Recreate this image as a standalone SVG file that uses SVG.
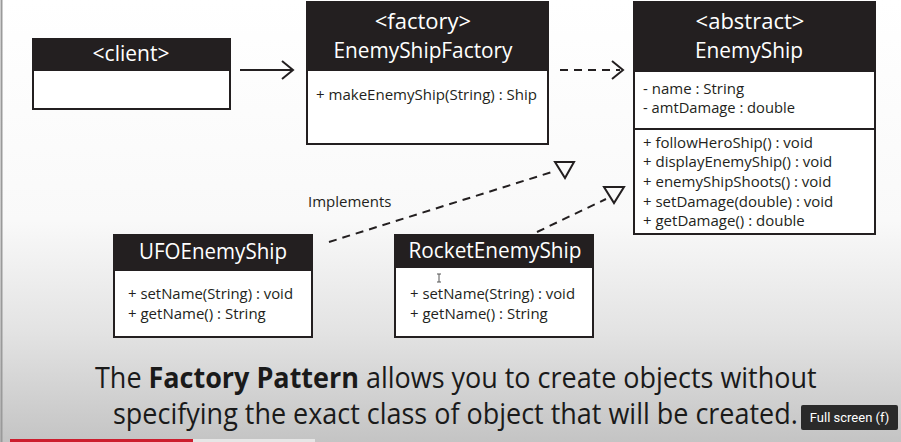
<svg xmlns="http://www.w3.org/2000/svg" width="901" height="442" viewBox="0 0 901 442">
<defs>
<linearGradient id="bg" x1="0" y1="0" x2="0" y2="1">
<stop offset="0" stop-color="#ffffff"/>
<stop offset="0.5" stop-color="#f9f9f9"/>
<stop offset="0.75" stop-color="#e3e3e3"/>
<stop offset="1" stop-color="#c4c4c4"/>
</linearGradient>
<style>
.box{fill:#ffffff;stroke:#231f20;stroke-width:2}
.hdr{fill:#231f20}
.ht{font-family:"Open Sans","Noto Sans",sans-serif;fill:#ffffff;text-anchor:middle}
.mt{font-family:"Open Sans","Noto Sans",sans-serif;fill:#231f20;font-size:15px}
.ln{stroke:#231f20;stroke-width:2;fill:none}
.dash{stroke:#231f20;stroke-width:2;fill:none;stroke-dasharray:8 6}
.big{font-family:"Open Sans","Noto Sans",sans-serif;fill:#1a1a1a;font-size:29px}
</style>
</defs>
<rect width="901" height="442" fill="url(#bg)"/>
<line x1="1.5" y1="0" x2="1.5" y2="442" stroke="#9a9a9a" stroke-width="2"/>

<g id="client">
<rect class="box" x="33" y="39" width="197" height="70"/>
<rect class="hdr" x="33" y="39" width="197" height="32"/>
<text class="ht" x="131" y="61" font-size="21">&lt;client&gt;</text>
</g>

<g id="factory">
<rect class="box" x="307" y="2" width="241" height="142"/>
<rect class="hdr" x="307" y="2" width="241" height="69"/>
<text class="ht" x="423" y="29" font-size="22">&lt;factory&gt;</text>
<text class="ht" x="423" y="58" font-size="22" textLength="179" lengthAdjust="spacingAndGlyphs">EnemyShipFactory</text>
<text class="mt" x="316" y="100" textLength="221" lengthAdjust="spacingAndGlyphs">+ makeEnemyShip(String) : Ship</text>
</g>

<g id="enemyship">
<rect class="box" x="634" y="2" width="241" height="232"/>
<rect class="hdr" x="634" y="2" width="241" height="70"/>
<text class="ht" x="750" y="29" font-size="22">&lt;abstract&gt;</text>
<text class="ht" x="749" y="58" font-size="22" textLength="108" lengthAdjust="spacingAndGlyphs">EnemyShip</text>
<line class="ln" x1="634" y1="129" x2="875" y2="129"/>
<text class="mt" x="643" y="94">- name : String</text>
<text class="mt" x="643" y="113" textLength="152" lengthAdjust="spacingAndGlyphs">- amtDamage : double</text>
<text class="mt" x="643" y="148">+ followHeroShip() : void</text>
<text class="mt" x="643" y="167">+ displayEnemyShip() : void</text>
<text class="mt" x="643" y="187">+ enemyShipShoots() : void</text>
<text class="mt" x="643" y="207">+ setDamage(double) : void</text>
<text class="mt" x="643" y="226">+ getDamage() : double</text>
</g>

<g id="ufo">
<rect class="box" x="114" y="235" width="198" height="102"/>
<rect class="hdr" x="114" y="235" width="198" height="36"/>
<text class="ht" x="213" y="259" font-size="21" textLength="148" lengthAdjust="spacingAndGlyphs">UFOEnemyShip</text>
<text class="mt" x="128" y="299" textLength="165" lengthAdjust="spacingAndGlyphs">+ setName(String) : void</text>
<text class="mt" x="128" y="319">+ getName() : String</text>
</g>

<g id="rocket">
<rect class="box" x="395" y="235" width="198" height="102"/>
<rect class="hdr" x="395" y="235" width="198" height="33"/>
<text class="ht" x="495" y="258" font-size="21" textLength="173" lengthAdjust="spacingAndGlyphs">RocketEnemyShip</text>
<text class="mt" x="410" y="299" textLength="165" lengthAdjust="spacingAndGlyphs">+ setName(String) : void</text>
<text class="mt" x="410" y="319">+ getName() : String</text>
<path d="M437 274h4M439 274v8M437 282h4" stroke="#555" stroke-width="1" fill="none"/>
</g>

<g id="connectors">
<line class="ln" x1="240" y1="70" x2="292" y2="70"/>
<polyline class="ln" points="282,61 293,70 282,79"/>
<line class="dash" x1="560" y1="70" x2="620" y2="70"/>
<polyline class="ln" points="612,61 623,70 612,79"/>
<line class="dash" x1="329" y1="242" x2="552" y2="172"/>
<polygon class="ln" points="555,162 574,162 565,178"/>
<line class="dash" x1="537" y1="232" x2="606" y2="199"/>
<polygon class="ln" points="604,187 624,187 614,203"/>
<text class="mt" x="308" y="207">Implements</text>
</g>

<g id="caption">
<text class="big" transform="translate(95,388) scale(0.8,1)" x="0" y="0" textLength="902" lengthAdjust="spacingAndGlyphs">The <tspan font-weight="bold">Factory Pattern</tspan> allows you to create objects without</text>
<text class="big" transform="translate(113,424) scale(0.8,1)" x="0" y="0" textLength="856" lengthAdjust="spacingAndGlyphs">specifying the exact class of object that will be created.</text>
</g>

<g id="player">
<rect x="10" y="439" width="183" height="3" fill="#cc1e2e"/>
<rect x="193" y="439" width="122" height="3" fill="#e6e6e6"/>
<rect x="801" y="405" width="97" height="25" rx="2" fill="#1c1c1c" fill-opacity="0.92"/>
<text x="849.5" y="422" font-family="Roboto,'Noto Sans',sans-serif" font-size="13" fill="#ffffff" text-anchor="middle">Full screen (f)</text>
</g>
</svg>
